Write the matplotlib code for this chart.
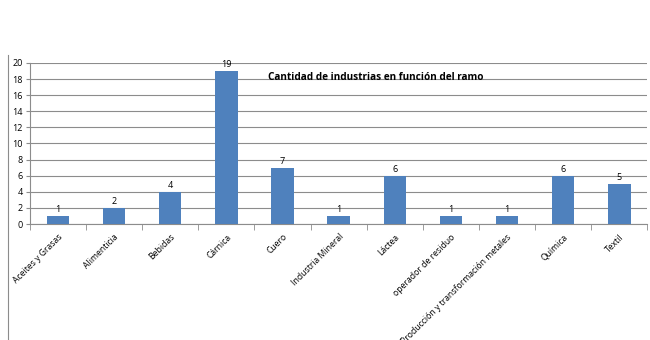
import matplotlib.pyplot as plt
from matplotlib.lines import Line2D
import numpy as np

ramos = ["Aceites y Grasas", "Alimenticia", "Bebidas", "Cárnica", "Cuero",
         "Industria Mineral", "Láctea", "operador de residuo",
         "Producción y transformación metales", "Química", "Textil"]
cantidad = [1, 2, 4, 19, 7, 1, 6, 1, 1, 6, 5]
titulo = "Cantidad de industrias en función del ramo"

plt.rcParams['font.family'] = ['Open Sans', 'DejaVu Sans']

fig = plt.figure(figsize=(6.5, 3.4), dpi=100)
ax = fig.add_axes([0.046, 0.341, 0.95, 0.474])

x = np.arange(len(ramos))
bars = ax.bar(x, cantidad, width=0.4, color="#4F81BD", zorder=3)
for xi, v in zip(x, cantidad):
    ax.text(xi, v + 0.25, str(v), ha="center", va="bottom", fontsize=6.5, zorder=4)

ax.set_xlim(-0.5, len(ramos) - 0.5)
ax.set_ylim(0, 20)
ax.set_yticks(range(0, 21, 2))
ax.yaxis.grid(True, color="#8c8c8c", linewidth=0.8, zorder=0)
ax.tick_params(axis="y", labelsize=6.5, length=3, color="#8c8c8c", pad=2)

ax.set_xticks(x)
ax.set_xticklabels(ramos, rotation=45, ha="right", rotation_mode="anchor", fontsize=6.2)
ax.tick_params(axis="x", length=0, pad=6)
ax.set_xticks(np.arange(-0.5, len(ramos), 1), minor=True)
ax.tick_params(axis="x", which="minor", length=4, color="#8c8c8c")

for s in ["top", "right"]:
    ax.spines[s].set_visible(False)
ax.spines["left"].set_color("#8c8c8c")
ax.spines["bottom"].set_color("#8c8c8c")

ax.text(0.56, 0.907, titulo, transform=ax.transAxes, ha="center", va="center",
        fontsize=7.2, fontweight="bold", zorder=5)

# borde izquierdo del marco
fig.add_artist(Line2D([8 / 650, 8 / 650], [0, 1 - 55 / 340], color="#8c8c8c", linewidth=0.8))

fig.savefig("out.png", dpi=100)
